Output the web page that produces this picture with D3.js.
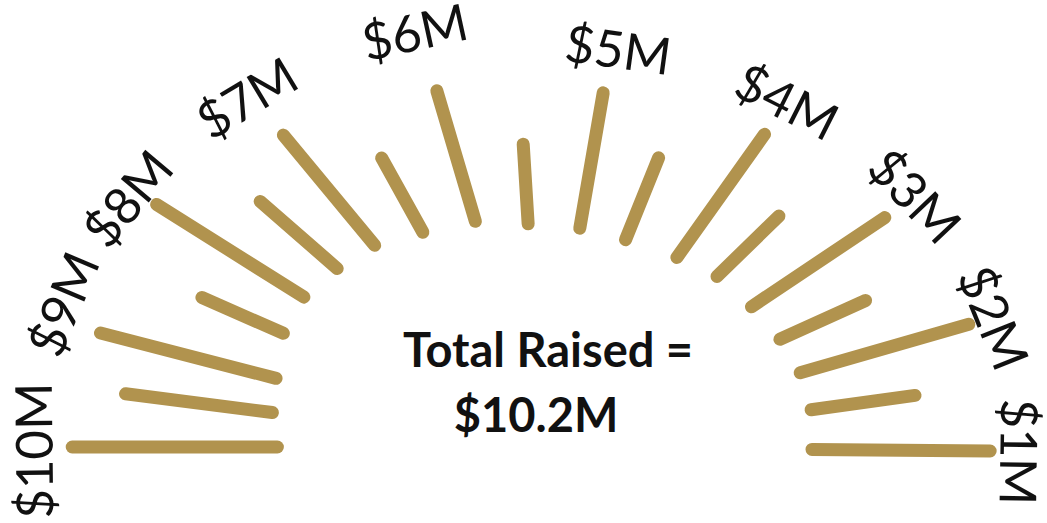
<!DOCTYPE html>
<html>
<head>
<meta charset="utf-8">
<script src="https://cdn.jsdelivr.net/npm/d3@7"></script>
<style>
	html, body { margin: 0; padding: 0; background: #fff; }
	svg { display: block; }
</style>
</head>
<body>
<div id="chart"></div>
<script>
// rays, counter clockwise from the right (angle in degrees, reach relative to the inner ring)
var rayAngles = [-0.6, 9.3, 18.8, 28.2, 38.4, 49.1, 59, 71.2, 81.7, 93, 104, 115.1, 125, 134.1, 143.3, 152.5, 163, 171.4, 180];
var rayStart = [1.0, 1.01, 1.01, 1.0, 0.99, 0.99, 0.97, 0.96, 0.97, 0.98, 1.02, 1.04, 1.08, 1.09, 1.1, 1.08, 1.03, 1.01, 0.98];
var rayEnd = [1.66, 1.40, 1.67, 1.36, 1.62, 1.34, 1.60, 1.34, 1.57, 1.33, 1.61, 1.40, 1.67, 1.50, 1.78, 1.42, 1.71, 1.56, 1.74];

// milestone labels round the arc
var milestoneLabels = ['$1M', '$2M', '$3M', '$4M', '$5M', '$6M', '$7M', '$8M', '$9M', '$10M'];
var labelAngles = [-0.7, 18.7, 38.6, 59.1, 80.8, 104.5, 125.5, 144.6, 160.5, 180.5];

var totalLines = ['Total Raised =', '$10.2M'];

var width = 1047, height = 523;
var cx = 542, cy = 447;
var gold = '#b1934e';

var rx = d3.scaleLinear().domain([0, 1]).range([0, 270]);
var ry = d3.scaleLinear().domain([0, 1]).range([0, 228]);
var ang = d3.scaleLinear().domain([0, 180]).range([0, Math.PI]);

var px = function(a, r) { return cx + rx(r) * Math.cos(ang(a)); };
var py = function(a, r) { return cy - ry(r) * Math.sin(ang(a)); };

var svg = d3.select('#chart').append('svg')
		.attr('width', width)
		.attr('height', height);

var rays = rayAngles.map(function(a, i) { return {a: a, r0: rayStart[i], r1: rayEnd[i]}; });

svg.append('g').selectAll('line').data(rays).enter().append('line')
	.attr('x1', function(d) { return px(d.a, d.r0); })
	.attr('y1', function(d) { return py(d.a, d.r0); })
	.attr('x2', function(d) { return px(d.a, d.r1); })
	.attr('y2', function(d) { return py(d.a, d.r1); })
	.attr('stroke', gold)
	.attr('stroke-width', 13)
	.attr('stroke-linecap', 'round');

// labels turned to face outwards (normal of the ellipse)
var labels = milestoneLabels.map(function(t, i) {
	var a = labelAngles[i];
	return {a: a, r: a < 90 ? 1.77 : 1.885, text: t};
});

svg.append('g').selectAll('text').data(labels).enter().append('text')
	.attr('transform', function(d) {
		var t = ang(d.a);
		var normal = Math.atan2(rx(1) * Math.sin(t), ry(1) * Math.cos(t)) * 180 / Math.PI;
		return 'translate(' + px(d.a, d.r) + ',' + py(d.a, d.r) + ') rotate(' + (90 - normal) + ')';
	})
	.attr('text-anchor', 'middle')
	.attr('dominant-baseline', 'central')
	.style('font-family', 'Lato, "Open Sans", sans-serif')
	.style('font-size', '51px')
	.attr('fill', '#111')
	.text(function(d) { return d.text; });

svg.append('g').selectAll('text').data(totalLines).enter().append('text')
	.attr('x', function(d, i) { return i == 0 ? 548 : 536; })
	.attr('y', function(d, i) { return 367 + i * 65; })
	.attr('text-anchor', 'middle')
	.style('font-family', 'Lato, "Open Sans", sans-serif')
	.style('font-weight', 'bold')
	.style('font-size', '47px')
	.attr('fill', '#111')
	.text(function(d) { return d; });
</script>
</body>
</html>
